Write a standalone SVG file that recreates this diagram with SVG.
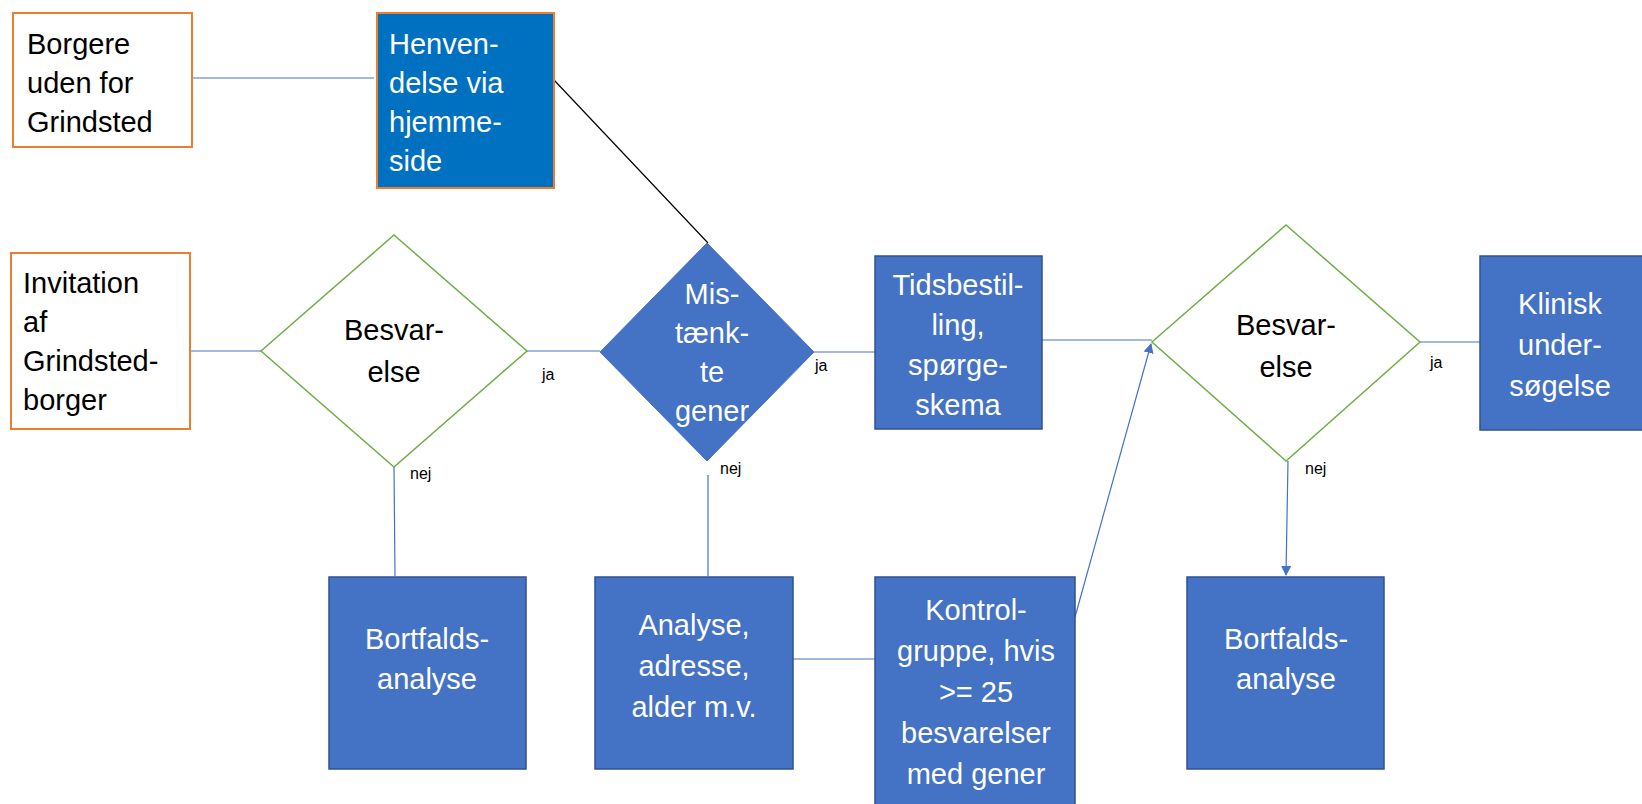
<svg xmlns="http://www.w3.org/2000/svg" width="1642" height="804" viewBox="0 0 1642 804">
<style>
.box{fill:#4472C4;stroke:#2F528F;stroke-width:1.5}
.obox{fill:#fff;stroke:#ED7D31;stroke-width:2}
.hbox{fill:#0070C0;stroke:#ED7D31;stroke-width:2}
.gd{fill:#fff;stroke:#70AD47;stroke-width:1.5}
.bd{fill:#4472C4;stroke:#4472C4;stroke-width:1}
.t{font-family:"Liberation Sans",Arial,sans-serif;font-size:29px}
.w{fill:#fff}
.k{fill:#000}
.c{text-anchor:middle}
.lbl{font-family:"Liberation Sans",Arial,sans-serif;font-size:16px;fill:#000}
.ln{stroke:#4472C4;stroke-width:1.2;fill:none}
</style>
<defs>
<marker id="arr" viewBox="0 0 10 10" refX="9" refY="5" markerWidth="10" markerHeight="10" markerUnits="userSpaceOnUse" orient="auto">
<path d="M0,0 L10,5 L0,10 z" fill="#4472C4"/>
</marker>
</defs>
<rect width="1642" height="804" fill="#fff"/>
<g id="connectors">
<line class="ln" x1="192" y1="78" x2="374" y2="78"/>
<line x1="554" y1="80" x2="708" y2="243" stroke="#000" stroke-width="1.2"/>
<line class="ln" x1="190" y1="351" x2="261" y2="351"/>
<line class="ln" x1="527" y1="351" x2="600" y2="351"/>
<line class="ln" x1="814" y1="352" x2="875" y2="352"/>
<line class="ln" x1="1042" y1="340" x2="1152" y2="340"/>
<line class="ln" x1="1420" y1="342" x2="1480" y2="342"/>
<line class="ln" x1="394" y1="467" x2="395" y2="576"/>
<line class="ln" x1="708" y1="475" x2="708" y2="576"/>
<line class="ln" x1="793" y1="659" x2="875" y2="659"/>
<line class="ln" x1="1075" y1="617" x2="1151" y2="344" marker-end="url(#arr)"/>
<line class="ln" x1="1288" y1="461" x2="1286" y2="575" marker-end="url(#arr)"/>
<text class="lbl" x="542" y="380">ja</text>
<text class="lbl" x="815" y="371">ja</text>
<text class="lbl" x="1430" y="368">ja</text>
<text class="lbl" x="410" y="479">nej</text>
<text class="lbl" x="720" y="474">nej</text>
<text class="lbl" x="1305" y="474">nej</text>
</g>
<g id="borgere">
<rect class="obox" x="13" y="13" width="179" height="134"/>
<text class="t k" x="27"><tspan x="27" y="54">Borgere</tspan><tspan x="27" y="93">uden for</tspan><tspan x="27" y="132">Grindsted</tspan></text>
</g>
<g id="henvendelse">
<rect class="hbox" x="377" y="13" width="177" height="175"/>
<text class="t w"><tspan x="389" y="54">Henven-</tspan><tspan x="389" y="93">delse via</tspan><tspan x="389" y="132">hjemme-</tspan><tspan x="389" y="171">side</tspan></text>
</g>
<g id="invitation">
<rect class="obox" x="11" y="253" width="179" height="176"/>
<text class="t k"><tspan x="23" y="293">Invitation</tspan><tspan x="23" y="332">af</tspan><tspan x="23" y="371">Grindsted-</tspan><tspan x="23" y="410">borger</tspan></text>
</g>
<g id="besvarelse1">
<polygon class="gd" points="394,235 527,351 394,467 261,351"/>
<text class="t k c"><tspan x="394" y="340">Besvar-</tspan><tspan x="394" y="382">else</tspan></text>
</g>
<g id="mistaenkte">
<polygon class="bd" points="707,243 814,352 707,461 600,352"/>
<text class="t w c"><tspan x="712" y="304">Mis-</tspan><tspan x="712" y="343">tænk-</tspan><tspan x="712" y="382">te</tspan><tspan x="712" y="421">gener</tspan></text>
</g>
<g id="tidsbestilling">
<rect class="box" x="875" y="256" width="167" height="173"/>
<text class="t w c"><tspan x="958" y="295">Tidsbestil-</tspan><tspan x="958" y="335">ling,</tspan><tspan x="958" y="375">spørge-</tspan><tspan x="958" y="415">skema</tspan></text>
</g>
<g id="besvarelse2">
<polygon class="gd" points="1286,225 1420,342 1286,461 1152,342"/>
<text class="t k c"><tspan x="1286" y="335">Besvar-</tspan><tspan x="1286" y="377">else</tspan></text>
</g>
<g id="klinisk">
<rect class="box" x="1480" y="256" width="163" height="174"/>
<text class="t w c"><tspan x="1560" y="314">Klinisk</tspan><tspan x="1560" y="355">under-</tspan><tspan x="1560" y="396">søgelse</tspan></text>
</g>
<g id="bortfalds1">
<rect class="box" x="329" y="577" width="197" height="192"/>
<text class="t w c"><tspan x="427" y="649">Bortfalds-</tspan><tspan x="427" y="689">analyse</tspan></text>
</g>
<g id="analyse">
<rect class="box" x="595" y="577" width="198" height="192"/>
<text class="t w c"><tspan x="694" y="635">Analyse,</tspan><tspan x="694" y="676">adresse,</tspan><tspan x="694" y="717">alder m.v.</tspan></text>
</g>
<g id="kontrol">
<rect class="box" x="875" y="577" width="200" height="230"/>
<text class="t w c"><tspan x="976" y="620">Kontrol-</tspan><tspan x="976" y="661">gruppe, hvis</tspan><tspan x="976" y="702">&gt;= 25</tspan><tspan x="976" y="743">besvarelser</tspan><tspan x="976" y="784">med gener</tspan></text>
</g>
<g id="bortfalds2">
<rect class="box" x="1187" y="577" width="197" height="192"/>
<text class="t w c"><tspan x="1286" y="649">Bortfalds-</tspan><tspan x="1286" y="689">analyse</tspan></text>
</g>
</svg>
